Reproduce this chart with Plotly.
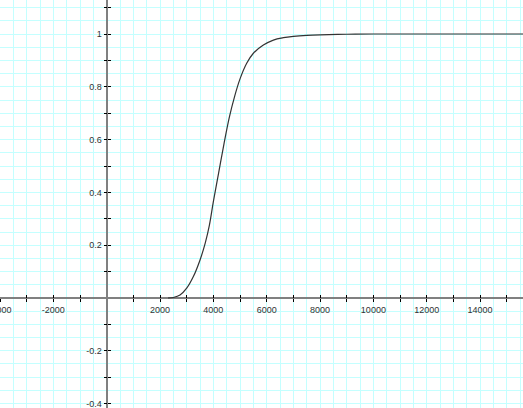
import plotly.graph_objects as go

curve_x = [2300, 2500, 2750, 3000, 3250, 3500, 3700, 3850, 4000, 4200, 4400,
           4600, 4800, 5000, 5250, 5500, 5875, 6250, 6625, 7000, 7500, 8000,
           9000, 10000, 12000, 14000, 16000]
curve_y = [0.0, 0.002, 0.011, 0.037, 0.081, 0.144, 0.21, 0.275, 0.365, 0.475, 0.585,
           0.685, 0.765, 0.83, 0.889, 0.927, 0.958, 0.977, 0.986, 0.991, 0.995, 0.997,
           0.999, 1.0, 1.0, 1.0, 1.0]

x_tick_vals = [-4000, -3000, -2000, -1000, 1000, 2000, 3000, 4000, 5000, 6000, 7000,
               8000, 9000, 10000, 11000, 12000, 13000, 14000, 15000]
x_tick_text = ["-4000", "", "-2000", "", "", "2000", "", "4000", "", "6000", "",
               "8000", "", "10000", "", "12000", "", "14000", ""]
y_tick_vals = [-0.4, -0.3, -0.2, -0.1, 0.1, 0.2, 0.3, 0.4, 0.5, 0.6, 0.7, 0.8, 0.9, 1.0, 1.1]
y_tick_text = ["-0.4", "", "-0.2", "", "", "0.2", "", "0.4", "", "0.6", "", "0.8", "", "1", ""]

X_RANGE = [-4000, 15610]
Y_RANGE = [-0.4167, 1.1288]
x_pos = (0 - Y_RANGE[0]) / (Y_RANGE[1] - Y_RANGE[0])
y_pos = (0 - X_RANGE[0]) / (X_RANGE[1] - X_RANGE[0])

GRID = "#c4ffff"
AXIS = "#808080"
TXT = "#333333"
FONT = dict(family="Liberation Sans, Arial, sans-serif", size=9, color=TXT)

fig = go.Figure()
fig.add_trace(go.Scatter(x=curve_x, y=curve_y, mode="lines",
                         line=dict(color="#333333", width=1.2, shape="spline", smoothing=1.0),
                         hoverinfo="skip", showlegend=False))
for xa, ya in [("x2", "y2"), ("x3", "y3")]:
    fig.add_trace(go.Scatter(x=[None], y=[None], xaxis=xa, yaxis=ya,
                             mode="markers", showlegend=False, hoverinfo="skip"))

fig.update_layout(
    width=523, height=408,
    autosize=False,
    margin=dict(l=0, r=0, t=0, b=0, pad=0),
    paper_bgcolor="white", plot_bgcolor="white",
    xaxis=dict(range=X_RANGE, dtick=500, tick0=0, showgrid=True, gridcolor=GRID,
               gridwidth=1, showticklabels=False, ticks="", zeroline=True,
               zerolinecolor=AXIS, zerolinewidth=2, showline=False, fixedrange=True,
               automargin=False),
    yaxis=dict(range=Y_RANGE, dtick=0.05, tick0=0, showgrid=True, gridcolor=GRID,
               gridwidth=1, showticklabels=False, ticks="", zeroline=True,
               zerolinecolor=AXIS, zerolinewidth=2, showline=False, fixedrange=True,
               automargin=False),
    xaxis2=dict(range=X_RANGE, overlaying="x", anchor="free", position=x_pos, side="bottom",
                tickmode="array", tickvals=x_tick_vals, ticktext=x_tick_text,
                ticks="outside", ticklen=3, tickwidth=1, tickcolor="black",
                showgrid=False, zeroline=False, showline=False, automargin=False,
                tickfont=FONT, ticklabeloverflow="allow", fixedrange=True),
    yaxis2=dict(range=Y_RANGE, overlaying="y", anchor="free", position=y_pos, side="left",
                tickmode="array", tickvals=y_tick_vals, ticktext=y_tick_text,
                ticks="outside", ticklen=3, tickwidth=1, tickcolor="black",
                showgrid=False, zeroline=False, showline=False, automargin=False,
                tickfont=FONT, ticklabeloverflow="allow", fixedrange=True),
    xaxis3=dict(range=X_RANGE, overlaying="x", anchor="free", position=x_pos, side="bottom",
                tickmode="array", tickvals=x_tick_vals, showticklabels=False,
                ticks="inside", ticklen=3, tickwidth=1, tickcolor="black",
                showgrid=False, zeroline=False, showline=False, automargin=False,
                fixedrange=True),
    yaxis3=dict(range=Y_RANGE, overlaying="y", anchor="free", position=y_pos, side="left",
                tickmode="array", tickvals=y_tick_vals, showticklabels=False,
                ticks="inside", ticklen=3, tickwidth=1, tickcolor="black",
                showgrid=False, zeroline=False, showline=False, automargin=False,
                fixedrange=True),
)

fig.write_html("out.html", config={"displayModeBar": False, "staticPlot": True},
               post_script="document.body.style.margin='0';document.body.style.overflow='hidden';")
